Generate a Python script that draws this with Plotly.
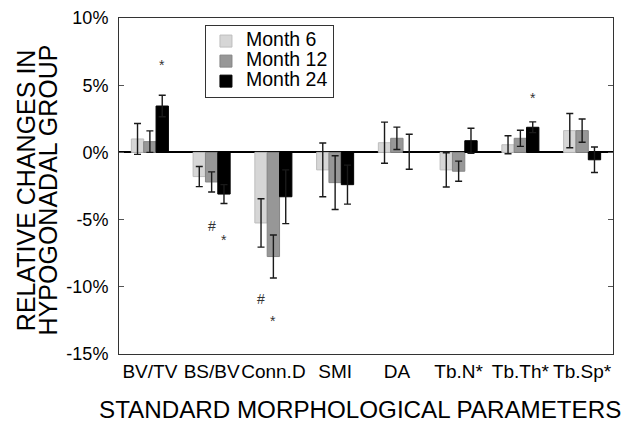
import plotly.graph_objects as go

categories = ["BV/TV", "BS/BV", "Conn.D", "SMI", "DA", "Tb.N*", "Tb.Th*", "Tb.Sp*"]
series_names = ["Month 6", "Month 12", "Month 24"]
month6 = [1.0, -1.8, -5.25, -1.3, 0.72, -1.3, 0.57, 1.62]
month6_err = [1.15, 0.75, 1.8, 2.0, 1.53, 1.27, 0.67, 1.27]
month12 = [0.8, -2.2, -7.75, -2.25, 1.05, -1.4, 1.05, 1.62]
month12_err = [0.8, 0.75, 1.6, 2.0, 0.83, 0.75, 0.6, 0.87]
month24 = [3.45, -3.1, -3.3, -2.4, 0.05, 0.87, 1.87, -0.55]
month24_err = [0.8, 0.7, 2.0, 1.45, 1.3, 0.93, 0.4, 0.95]

# significance markers: category, series index, y value, symbol
sig_cat = ["BV/TV", "BS/BV", "BS/BV", "Conn.D", "Conn.D", "Tb.Th*"]
sig_series = [2, 1, 2, 0, 1, 2]
sig_y = [6.5, -5.5, -6.55, -10.9, -12.55, 4.08]
sig_sym = ["*", "#", "*", "#", "*", "*"]

y_tickvals = [-15, -10, -5, 0, 5, 10]
y_ticktext = ["-15%", "-10%", "-5%", "0%", "5%", "10%"]

FONT = "Liberation Sans, Arial, sans-serif"
fill_colors = ["#d6d6d6", "#979797", "#000000"]
line_colors = ["#bdbdbd", "#858585", "#000000"]

values = [month6, month12, month24]
errors = [month6_err, month12_err, month24_err]

fig = go.Figure()
for i in range(3):
    fig.add_trace(go.Bar(
        x=categories, y=values[i],
        name='<span style="font-size:19.5px">%s</span>' % series_names[i],
        marker=dict(color=fill_colors[i], line=dict(color=line_colors[i], width=1)),
        error_y=dict(type="data", array=errors[i], visible=True,
                     color="#1a1a1a", thickness=1.4, width=3.5),
    ))

L, R, T, B = 119, 8, 18, 68
W, H = 621, 422
plot_w = W - L - R
bar_px = plot_w / len(categories) * 0.2

annotations = []
for c, s, yv, sym in zip(sig_cat, sig_series, sig_y, sig_sym):
    annotations.append(dict(
        x=c, y=yv, xref="x", yref="y", text=sym, showarrow=False,
        xshift=(s - 1) * bar_px, font=dict(family=FONT, size=14, color="#333"),
    ))

annotations += [
    dict(text="STANDARD MORPHOLOGICAL PARAMETERS", xref="paper", yref="paper",
         x=0.487, y=-0.166, xanchor="center", yanchor="middle", showarrow=False,
         font=dict(family=FONT, size=24.2, color="#000")),
    dict(text="RELATIVE CHANGES IN", xref="paper", yref="paper", textangle=-90,
         x=-0.188, y=0.488, xanchor="center", yanchor="middle", showarrow=False,
         font=dict(family=FONT, size=25, color="#000")),
    dict(text="HYPOGONADAL GROUP", xref="paper", yref="paper", textangle=-90,
         x=-0.143, y=0.488, xanchor="center", yanchor="middle", showarrow=False,
         font=dict(family=FONT, size=25, color="#000")),
]

fig.update_layout(
    template="none",
    width=W, height=H,
    margin=dict(l=L, r=R, t=T, b=B, pad=0, autoexpand=False),
    paper_bgcolor="white", plot_bgcolor="white",
    barmode="group", bargap=0.4, bargroupgap=0,
    font=dict(family=FONT, color="#000"),
    showlegend=True,
    legend=dict(x=0.174, y=0.979, xanchor="left", yanchor="top",
                bordercolor="#333", borderwidth=1, bgcolor="white",
                font=dict(family=FONT, size=13.1),
                itemwidth=30, tracegroupgap=0),
    annotations=annotations,
)
fig.update_xaxes(
    automargin=False, tickangle=0,
    showline=True, linecolor="#333", linewidth=1, mirror=True,
    ticks="", showgrid=False, zeroline=False, tickfont=dict(family=FONT, size=19),
)
fig.update_yaxes(
    automargin=False,
    range=[-15, 10], tickvals=y_tickvals, ticktext=y_ticktext,
    showline=True, linecolor="#333", linewidth=1, mirror="ticks",
    ticks="inside", ticklen=5, tickcolor="#555", showgrid=False,
    zeroline=True, zerolinecolor="#000", zerolinewidth=1.5,
    tickfont=dict(family=FONT, size=18), ticklabelstandoff=6,
)

fig.write_html("out.html", config={"displayModeBar": False},
               post_script="document.body.style.margin='0px';")
